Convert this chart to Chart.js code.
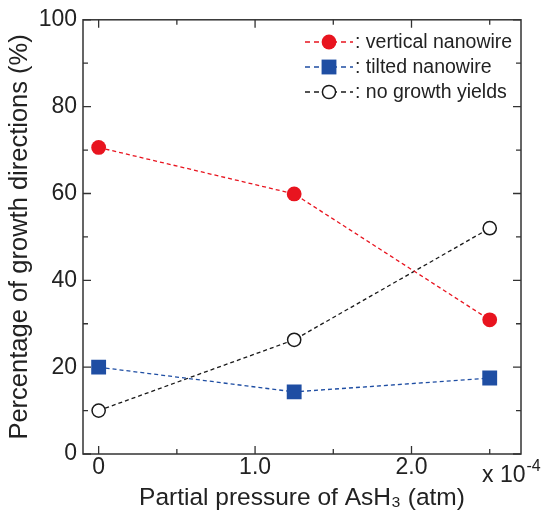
<!DOCTYPE html>
<html>
<head>
<meta charset="utf-8">
<script src="https://cdn.jsdelivr.net/npm/chart.js@4"></script>
<style>
  html, body { margin: 0; padding: 0; background: #fff; }
  #wrap { width: 543px; height: 514px; }
</style>
</head>
<body>
<div id="wrap"><canvas id="growth-chart" width="543" height="514"></canvas></div>
<script>
// partial pressure of AsH3 (x 10^-4 atm)
var pressure = [0, 1.25, 2.5];
var verticalNanowire = [70.6, 59.9, 30.9];
var tiltedNanowire = [20.0, 14.3, 17.5];
var noGrowth = [10.0, 26.3, 52.0];

var seriesNames = ["vertical nanowire", "tilted nanowire", "no growth yields"];

var xTickValues = [0, 0.5, 1.0, 1.5, 2.0, 2.5];
var xTickLabels = ["0", "", "1.0", "", "2.0", ""];
var yTickValues = [0, 10, 20, 30, 40, 50, 60, 70, 80, 90, 100];
var yTickLabels = ["0", "", "20", "", "40", "", "60", "", "80", "", "100"];

var FONT = "'Liberation Sans', Arial, Helvetica, sans-serif";
var RED = "#e8141f";
var BLUE = "#1f4ea3";
var BLACK = "#1a1a1a";

window.onload = main;

function toPoints(xs, ys) {
    return xs.map(function (x, i) { return {x: x, y: ys[i]}; });
}

// box with inward ticks on all four sides
var framePlugin = {
    id: "frame",
    afterDraw: function (chart) {
        var ctx = chart.ctx;
        var a = chart.chartArea;
        var sx = chart.scales.x, sy = chart.scales.y;
        ctx.save();
        ctx.strokeStyle = "#333";
        ctx.lineWidth = 1.5;
        ctx.strokeRect(a.left, a.top, a.right - a.left, a.bottom - a.top);
        ctx.lineWidth = 1.3;
        ctx.beginPath();
        xTickValues.forEach(function (v, i) {
            var px = sx.getPixelForValue(v);
            var len = xTickLabels[i] ? 8 : 5;
            ctx.moveTo(px, a.bottom); ctx.lineTo(px, a.bottom - len);
            ctx.moveTo(px, a.top); ctx.lineTo(px, a.top + len);
        });
        yTickValues.forEach(function (v, i) {
            var py = sy.getPixelForValue(v);
            var len = yTickLabels[i] ? 8 : 5;
            ctx.moveTo(a.left, py); ctx.lineTo(a.left + len, py);
            ctx.moveTo(a.right, py); ctx.lineTo(a.right - len, py);
        });
        ctx.stroke();

        // exponent note under the right end of the x axis
        ctx.fillStyle = "#222";
        ctx.textBaseline = "middle";
        ctx.textAlign = "left";
        ctx.font = "23px " + FONT;
        ctx.fillText("x 10", 482, 476);
        var w = ctx.measureText("x 10").width;
        ctx.font = "16px " + FONT;
        ctx.fillText("-4", 482 + w + 1, 467);
        ctx.restore();
    }
};

function drawMarker(ctx, ds, x, y) {
    ctx.fillStyle = ds.pointBackgroundColor;
    ctx.strokeStyle = ds.pointBorderColor;
    ctx.lineWidth = ds.pointBorderWidth;
    ctx.beginPath();
    if (ds.pointStyle === "rect") {
        var h = ds.pointRadius * Math.SQRT1_2;
        ctx.rect(x - h, y - h, 2 * h, 2 * h);
    } else {
        ctx.arc(x, y, ds.pointRadius, 0, Math.PI * 2);
    }
    ctx.fill();
    if (ds.pointBorderWidth > 0) ctx.stroke();
}

// legend in the style "--o--: name"
var legendPlugin = {
    id: "dashLegend",
    afterDraw: function (chart) {
        var ctx = chart.ctx;
        var rows = [42, 67, 92];
        ctx.save();
        chart.data.datasets.forEach(function (ds, i) {
            var y = rows[i];
            ctx.strokeStyle = ds.borderColor;
            ctx.lineWidth = 1.3;
            ctx.setLineDash([5, 4]);
            ctx.beginPath();
            ctx.moveTo(305, y); ctx.lineTo(353, y);
            ctx.stroke();
            ctx.setLineDash([]);
            drawMarker(ctx, ds, 329, y);
            ctx.fillStyle = "#222";
            ctx.font = "19.5px " + FONT;
            ctx.textBaseline = "middle";
            ctx.textAlign = "left";
            ctx.fillText(": " + ds.label, 355, y + 1);
        });
        ctx.restore();
    }
};

function main() {
    var common = {
        type: "line",
        showLine: true,
        fill: false,
        borderWidth: 1.3,
        borderDash: [4, 3],
        tension: 0
    };
    new Chart(document.getElementById("growth-chart"), {
        type: "scatter",
        data: {
            datasets: [
                Object.assign({}, common, {
                    label: seriesNames[0],
                    data: toPoints(pressure, verticalNanowire),
                    borderColor: RED,
                    pointStyle: "circle",
                    pointRadius: 7.4,
                    pointBackgroundColor: RED,
                    pointBorderColor: RED,
                    pointBorderWidth: 0
                }),
                Object.assign({}, common, {
                    label: seriesNames[1],
                    data: toPoints(pressure, tiltedNanowire),
                    borderColor: BLUE,
                    pointStyle: "rect",
                    pointRadius: 10.5,
                    pointBackgroundColor: BLUE,
                    pointBorderColor: BLUE,
                    pointBorderWidth: 0
                }),
                Object.assign({}, common, {
                    label: seriesNames[2],
                    data: toPoints(pressure, noGrowth),
                    borderColor: BLACK,
                    pointStyle: "circle",
                    pointRadius: 6.6,
                    pointBackgroundColor: "#fff",
                    pointBorderColor: BLACK,
                    pointBorderWidth: 1.5
                })
            ]
        },
        options: {
            responsive: false,
            animation: false,
            layout: { padding: { left: 0, right: 22, top: 17, bottom: 0 } },
            plugins: {
                legend: { display: false },
                tooltip: { enabled: false }
            },
            scales: {
                x: {
                    type: "linear",
                    min: -0.1,
                    max: 2.7,
                    afterFit: function (s) { s.height = 60; },
                    afterBuildTicks: function (s) {
                        s.ticks = xTickValues.map(function (v) { return {value: v}; });
                    },
                    grid: { display: false, drawTicks: false },
                    border: { display: false },
                    ticks: {
                        autoSkip: false,
                        maxRotation: 0,
                        padding: 0,
                        color: "#222",
                        font: { family: FONT, size: 23 },
                        callback: function (v, i) { return xTickLabels[i]; }
                    },
                    title: {
                        display: true,
                        text: "Partial pressure of AsH\u2083 (atm)",
                        color: "#222",
                        font: { family: FONT, size: 24.5 },
                        padding: { top: 0, bottom: 1 }
                    }
                },
                y: {
                    min: 0,
                    max: 100,
                    afterFit: function (s) { s.width = 83; },
                    afterBuildTicks: function (s) {
                        s.ticks = yTickValues.map(function (v) { return {value: v}; });
                    },
                    grid: { display: false, drawTicks: false },
                    border: { display: false },
                    ticks: {
                        autoSkip: false,
                        padding: 6,
                        color: "#222",
                        font: { family: FONT, size: 23 },
                        callback: function (v, i) { return yTickLabels[i]; }
                    },
                    title: {
                        display: true,
                        text: "Percentage of growth directions (%)",
                        color: "#222",
                        font: { family: FONT, size: 25.5 },
                        padding: { top: 5, bottom: 0 }
                    }
                }
            }
        },
        plugins: [framePlugin, legendPlugin]
    });
}
</script>
</body>
</html>
